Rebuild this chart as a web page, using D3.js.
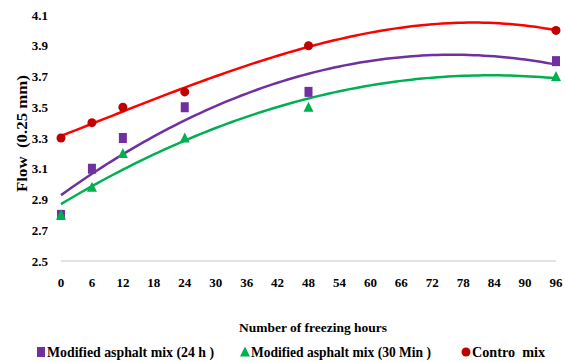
<!DOCTYPE html>
<html>
<head>
<meta charset="utf-8">
<script src="https://cdn.jsdelivr.net/npm/d3@7"></script>
<style>
    body { margin: 0; background: white; }
    svg text { font-family: 'Liberation Serif', 'Times New Roman', serif; font-weight: bold; fill: #000; white-space: pre; }
</style>
</head>
<body>
<svg id="chart" width="565" height="362" font-family="Liberation Serif"></svg>
<script>
// Data
const hours = [0, 6, 12, 24, 48, 96];
const mix24h = [2.8, 3.1, 3.3, 3.5, 3.6, 3.8];
const mix30min = [2.8, 2.98, 3.2, 3.3, 3.5, 3.7];
const controlMix = [3.3, 3.4, 3.5, 3.6, 3.9, 4.0];
const xTicks = d3.range(0, 97, 6);
const yTicks = [2.5, 2.7, 2.9, 3.1, 3.3, 3.5, 3.7, 3.9, 4.1];
const seriesNames = ['Modified asphalt mix (24 h )', 'Modified asphalt mix (30 Min )', 'Contro  mix'];

const series = [
    { name: seriesNames[0], values: mix24h, color: '#7030A0', line: '#7030A0', shape: 'square', order: 2 },
    { name: seriesNames[1], values: mix30min, color: '#00B050', line: '#00B050', shape: 'triangle', order: 2 },
    { name: seriesNames[2], values: controlMix, color: '#C00000', line: '#FF0000', shape: 'circle', order: 3 }
];

// Polynomial least squares (Excel trendline)
function polyFit(xs, ys, order) {
    const n = order + 1;
    const A = d3.range(n).map((r) => d3.range(n + 1).map((c) => {
        if (c === n) return d3.sum(xs, (x, i) => ys[i] * Math.pow(x, r));
        return d3.sum(xs, (x) => Math.pow(x, r + c));
    }));
    for (let i = 0; i < n; i++) {
        for (let j = i + 1; j < n; j++) {
            const f = A[j][i] / A[i][i];
            for (let k = i; k <= n; k++) A[j][k] -= f * A[i][k];
        }
    }
    const c = new Array(n).fill(0);
    for (let i = n - 1; i >= 0; i--) {
        let v = A[i][n];
        for (let k = i + 1; k < n; k++) v -= A[i][k] * c[k];
        c[i] = v / A[i][i];
    }
    return (x) => d3.sum(c, (ci, k) => ci * Math.pow(x, k));
}

const svg = d3.select('#chart');

const x = d3.scaleLinear().domain([0, 96]).range([61, 556]);
const y = d3.scaleLinear().domain([2.5, 4.1]).range([261, 15]);

// Baseline
svg.append('line')
    .attr('x1', x(0)).attr('x2', x(96))
    .attr('y1', y(2.5)).attr('y2', y(2.5))
    .attr('stroke', '#D9D9D9').attr('stroke-width', 1.5);

// Axes labels
svg.append('g').selectAll('text').data(yTicks).join('text')
    .attr('x', 48).attr('y', (d) => y(d) + 4.5)
    .attr('text-anchor', 'end')
    .style('font-size', '13px')
    .text((d) => d.toFixed(1));

svg.append('g').selectAll('text').data(xTicks).join('text')
    .attr('x', (d) => x(d)).attr('y', 287)
    .attr('text-anchor', 'middle')
    .style('font-size', '13px')
    .text((d) => d);

svg.append('text')
    .attr('x', 239).attr('y', 332)
    .attr('textLength', 148).attr('lengthAdjust', 'spacingAndGlyphs')
    .style('font-size', '13px')
    .text('Number of freezing hours');

svg.append('text')
    .attr('transform', 'translate(27,192) rotate(-90)')
    .attr('textLength', 117).attr('lengthAdjust', 'spacingAndGlyphs')
    .style('font-size', '15px')
    .text('Flow  (0.25 mm)');

// Trendlines
const line = d3.line().x((d) => x(d[0])).y((d) => y(d[1]));
series.forEach((s) => {
    const f = polyFit(hours, s.values, s.order);
    const pts = d3.range(0, 96.01, 1).map((h) => [h, f(h)]);
    svg.append('path')
        .attr('d', line(pts))
        .attr('fill', 'none')
        .attr('stroke', s.line)
        .attr('stroke-width', 2.5);
});

// Markers
function marker(sel, shape, color) {
    if (shape === 'square') {
        sel.append('rect').attr('x', -4).attr('y', -5).attr('width', 8).attr('height', 10).attr('fill', color);
    } else if (shape === 'triangle') {
        sel.append('path').attr('d', 'M0,-5.5L5,4.5L-5,4.5Z').attr('fill', color);
    } else {
        sel.append('circle').attr('r', 4.5).attr('fill', color);
    }
}

series.forEach((s) => {
    svg.append('g').selectAll('g').data(hours).join('g')
        .attr('transform', (d, i) => `translate(${x(d)},${y(s.values[i])})`)
        .each(function () { marker(d3.select(this), s.shape, s.color); });
});

// Legend
const legendX = [41, 245, 466];
const legendW = [167, 180, 73];
series.forEach((s, i) => {
    const g = svg.append('g').attr('transform', `translate(${legendX[i]},352)`);
    marker(g, s.shape, s.color);
    g.append('text')
        .attr('x', 6).attr('y', 5)
        .attr('textLength', legendW[i]).attr('lengthAdjust', 'spacingAndGlyphs')
        .style('font-size', '15px')
        .text(s.name);
});
</script>
</body>
</html>
